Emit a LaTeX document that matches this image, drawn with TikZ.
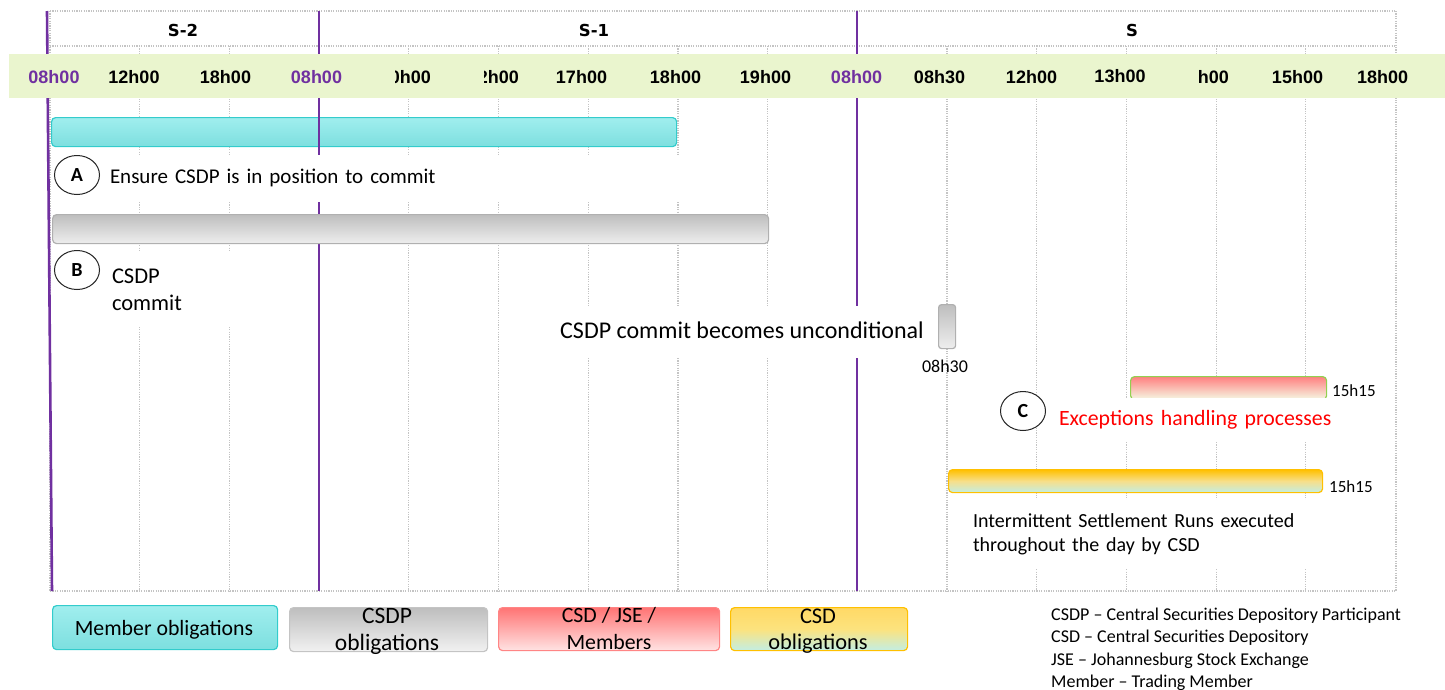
\documentclass[tikz,border=0pt]{standalone}
\usepackage{fontspec}
\setmainfont{Carlito}
\newfontfamily\headfont{DejaVu Sans}
\newfontfamily\timefont{Liberation Sans}
\usetikzlibrary{shapes.geometric}

\definecolor{gridgray}{HTML}{C4C4C4}
\definecolor{dayline}{HTML}{7030A0}
\definecolor{band}{HTML}{EAF5CE}
\definecolor{cyanTop}{HTML}{A0EEEE}
\definecolor{cyanBot}{HTML}{7DDFDF}
\definecolor{cyanEdge}{HTML}{33CCCC}
\definecolor{grayTop}{HTML}{BEBEBE}
\definecolor{grayBot}{HTML}{EEEEEE}
\definecolor{grayEdge}{HTML}{B0B0B0}
\definecolor{redTop}{HTML}{FF8080}
\definecolor{redBot}{HTML}{F5F9E4}
\definecolor{limeEdge}{HTML}{92D050}
\definecolor{amber}{HTML}{FFC000}
\definecolor{amberMid}{HTML}{F7DF8A}
\definecolor{mint}{HTML}{C2EEE4}
\definecolor{legRedTop}{HTML}{FF7474}
\definecolor{legRedBot}{HTML}{FFE3E3}
\definecolor{legRedEdge}{HTML}{FF8585}
\definecolor{legAmberTop}{HTML}{FFD966}
\definecolor{legAmberMid}{HTML}{FCE37E}
\definecolor{alert}{HTML}{FF0000}

\tikzset{
  gridline/.style={gridgray, line width=1.2pt, dash pattern=on 1.2pt off 1.2pt},
  dayrule/.style={dayline, line width=2.6pt},
  bar/.style={rectangle, rounded corners=4pt, inner sep=0pt, line width=1.2pt, anchor=north west},
  cyanbar/.style={bar, draw=cyanEdge, top color=cyanTop, bottom color=cyanBot},
  graybar/.style={bar, draw=grayEdge, top color=grayTop, bottom color=grayBot},
  redbar/.style={bar, draw=limeEdge, top color=redTop, bottom color=redBot},
  amberbar/.style={bar, draw=amber, top color=amber, bottom color=mint, middle color=amberMid},
  legred/.style={bar, draw=legRedEdge, top color=legRedTop, bottom color=legRedBot},
  legamber/.style={bar, draw=amber, top color=legAmberTop, bottom color=mint, middle color=legAmberMid},
  mask/.style={fill=white, inner ysep=0pt},
  badge/.style={ellipse, draw=black!85, line width=1pt, fill=white, inner sep=0pt,
    minimum width=45pt, minimum height=39pt, font=\fontsize{20}{24}\selectfont\bfseries},
  daylabel/.style={font=\headfont\bfseries\fontsize{16.5}{20}\selectfont, anchor=base, inner sep=0pt},
  timelabel/.style={font=\timefont\bfseries\fontsize{18}{22}\selectfont, anchor=base, inner sep=0pt},
  small/.style={font=\fontsize{17}{20}\selectfont, inner sep=0pt},
  legtext/.style={anchor=base, inner sep=0pt},
}

\begin{document}
\begin{tikzpicture}[x=1pt, y=-1pt]
\useasboundingbox (0,0) rectangle (1445,689);

% dotted timetable grid
\draw[gridline] (50,11) -- (1396,11);
\draw[gridline] (50,46) -- (1396,46);
\draw[gridline] (50,591) -- (1396,591);
\draw[gridline] (50,11) -- (50,591);
\draw[gridline] (1396,11) -- (1396,591);
\foreach \k in {1,...,14}
  \draw[gridline] ({50+89.7*\k},46) -- ({50+89.7*\k},591);

% member bar sits beneath the day rules
\node[cyanbar, minimum width=625pt, minimum height=29pt] (barA) at (51,117) {};

% day boundaries
\draw[dayrule] (47,11) -- (52,591);
\draw[dayrule] (319,11) -- (319,591);
\draw[dayrule] (857,11) -- (857,591);

% A: ensure position
\node[mask, text width=585pt, align=left, minimum height=47pt, text height=14pt, text depth=5pt,
      font=\fontsize{21}{25}\selectfont] (txtA) at (402.5,178.5) {Ensure CSDP is in position to commit};
\node[badge] (circA) at (77,175) {A};

% B: CSDP commit
\node[graybar, minimum width=716pt, minimum height=29pt] (barB) at (52,214) {};
\node[mask, text width=128pt, inner xsep=12pt, align=left, minimum height=76pt,
      font=\fontsize{22.5}{27}\selectfont] (txtB) at (176,289.4) {CSDP\\commit};
\node[badge] (circB) at (77,270) {B};

% commit becomes unconditional
\node[mask, minimum width=384pt, minimum height=52pt, text height=17pt, text depth=5pt,
      font=\fontsize{24}{28}\selectfont] (txtUncond) at (742,332) {CSDP commit becomes unconditional};
\node[graybar, rounded corners=3pt, minimum width=17pt, minimum height=44pt] (barUncond) at (938,304) {};
\node[small, font=\fontsize{18}{22}\selectfont, anchor=base] (timeUncond) at (945,372) {08h30};

% C: exceptions handling
\node[redbar, minimum width=196pt, minimum height=23pt] (barExc) at (1130,376) {};
\node[small, anchor=base west] (timeExc) at (1332,396) {15h15};
\node[mask, text width=276pt, inner xsep=12pt, align=left, minimum height=44pt, text height=15pt,
      text depth=5pt, text=alert, font=\fontsize{21.8}{26}\selectfont] (txtC) at (1197,420) {Exceptions handling processes};
\node[badge] (circC) at (1023,411) {C};

% settlement runs
\node[amberbar, minimum width=374pt, minimum height=23pt] (barSettle) at (948,469) {};
\node[small, anchor=base west] (timeSettle) at (1329,492) {15h15};
\node[mask, text width=357pt, inner xsep=15pt, align=left, minimum height=68pt,
      font=\fontsize{20}{24}\selectfont] (txtSettle) at (1151.5,534) {Intermittent Settlement Runs executed\\throughout the day by CSD};

% time band
\fill[band] (9,54) rectangle (1445,98);
\node[daylabel] (dayS2) at (183,36) {S-2};
\node[daylabel] (dayS1) at (594,36) {S-1};
\node[daylabel] (dayS) at (1132,36) {S};

\node[timelabel, text=dayline] (t1) at (54,83) {08h00};
\node[timelabel] (t2) at (134,83) {12h00};
\node[timelabel] (t3) at (225.5,83) {18h00};
\node[timelabel, text=dayline] (t4) at (316.5,83) {08h00};
\begin{scope}
  \clip (395,55) rectangle (440,98);
  \node[timelabel, anchor=base east] (t5) at (431,83) {10h00};
\end{scope}
\begin{scope}
  \clip (484,55) rectangle (530,98);
  \node[timelabel, anchor=base east] (t6) at (519,83) {12h00};
\end{scope}
\node[timelabel] (t7) at (581.5,83) {17h00};
\node[timelabel] (t8) at (675.5,83) {18h00};
\node[timelabel] (t9) at (765.5,83) {19h00};
\node[timelabel, text=dayline] (t10) at (856.5,83) {08h00};
\node[timelabel] (t11) at (939.5,83) {08h30};
\node[timelabel] (t12) at (1031.5,83) {12h00};
\node[timelabel] (t13) at (1120,82) {13h00};
\begin{scope}
  \clip (1198,55) rectangle (1240,98);
  \node[timelabel, anchor=base east] (t14) at (1229,83) {14h00};
\end{scope}
\node[timelabel] (t15) at (1297.5,83) {15h00};
\node[timelabel] (t16) at (1382.5,83) {18h00};

% legend
\node[cyanbar, minimum width=225pt, minimum height=44pt] (legMember) at (52,605) {};
\node[legtext, font=\fontsize{21.8}{26}\selectfont] (legMemberText) at (164,635) {Member obligations};

\node[graybar, draw=gridgray, top color=grayTop, bottom color=grayBot!80!white, minimum width=198pt, minimum height=44pt] (legCsdp) at (289,607) {};
\node[legtext, font=\fontsize{23.5}{28}\selectfont] (legCsdpA) at (387,623) {CSDP};
\node[legtext, font=\fontsize{23.5}{28}\selectfont] (legCsdpB) at (387,650) {obligations};

\node[legred, minimum width=221pt, minimum height=43pt] (legJoint) at (498,607) {};
\node[legtext, font=\fontsize{21.8}{26}\selectfont] (legJointA) at (609,622) {CSD / JSE /};
\node[legtext, font=\fontsize{21.8}{26}\selectfont] (legJointB) at (609,649) {Members};

\node[legamber, minimum width=177pt, minimum height=43pt] (legCsd) at (730,607) {};
\node[legtext, font=\fontsize{22.4}{26}\selectfont] (legCsdA) at (818,623) {CSD};
\node[legtext, font=\fontsize{22.4}{26}\selectfont] (legCsdB) at (818,649) {obligations};

% abbreviations
\node[small, font=\fontsize{18}{22}\selectfont, anchor=base west] (abbr1) at (1051,620) {CSDP – Central Securities Depository Participant};
\node[small, font=\fontsize{18}{22}\selectfont, anchor=base west] (abbr2) at (1051,642.5) {CSD – Central Securities Depository};
\node[small, font=\fontsize{18}{22}\selectfont, anchor=base west] (abbr3) at (1051,665) {JSE – Johannesburg Stock Exchange};
\node[small, font=\fontsize{18}{22}\selectfont, anchor=base west] (abbr4) at (1051,687) {Member – Trading Member};
\end{tikzpicture}
\end{document}
